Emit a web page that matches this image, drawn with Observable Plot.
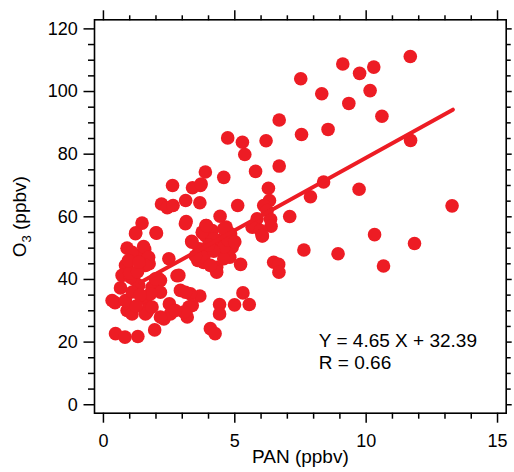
<!DOCTYPE html>
<html>
<head>
<meta charset="utf-8">
<script src="https://cdn.jsdelivr.net/npm/d3@7"></script>
<script src="https://cdn.jsdelivr.net/npm/@observablehq/plot@0.6"></script>
<style>
  html, body { margin: 0; padding: 0; background: #fff; }
  #chart svg { display: block; }
</style>
</head>
<body>
<div id="chart"></div>
<script>
// PAN (ppbv) values
const pan = [
  11.68, 9.11, 10.29, 9.75, 7.51, 10.15, 8.31, 9.34, 10.6, 6.69,
  8.55, 7.54, 4.73, 5.29, 6.19, 11.69, 5.38, 6.69, 5.79, 3.88,
  4.58, 2.63, 3.69, 3.39, 8.38, 6.28, 9.73, 7.88, 3.13, 3.67,
  2.21, 2.43, 2.65, 5.11, 6.32, 6.1, 6.23, 13.27, 7.09, 4.44,
  6.36, 5.85, 3.15, 1.47, 3.9, 5.66, 6.38, 2.0, 1.23, 4.67,
  6.05, 10.32, 3.36, 3.78, 4.39, 4.84, 11.84, 0.9, 1.57, 7.63,
  8.93, 3.64, 3.95, 4.9, 4.43, 2.49, 4.81, 6.48, 6.67, 5.22,
  1.74, 3.59, 3.81, 4.31, 0.9, 4.31, 10.66, 6.68, 2.8, 2.17,
  0.65, 3.67, 2.93, 3.31, 5.31, 0.44, 0.9, 4.42, 4.99, 5.55,
  3.38, 2.51, 2.67, 1.66, 2.3, 3.19, 4.42, 1.95, 4.07, 4.25,
  0.46, 0.82, 1.31,
  1.22, 1.09, 1.53, 1.72, 0.84, 1.6, 3.12, 2.11, 0.71, 1.15,
  1.34, 1.85, 0.33, 0.84, 1.6, 2.17, 1.09, 1.72, 3.12, 3.25,
  2.55, 2.17, 3.06, 3.88, 3.37, 4.14, 2.87, 1.03, 1.98, 1.79,
  1.6, 1.85, 2.74, 3.82, 4.58, 4.07, 4.2, 4.58, 3.76, 3.92,
  5.98, 6.04, 3.72, 2.02, 1.22, 1.0, 1.3, 1.1, 1.4, 1.25,
  0.95, 1.35, 4.6, 4.75, 4.2, 5.0, 4.0, 3.5
];
// O3 (ppbv) values
const o3 = [
  111.2, 108.8, 107.8, 105.8, 104.1, 100.3, 99.3, 96.2, 92.1, 90.9,
  87.9, 86.3, 85.2, 83.8, 84.3, 84.4, 79.9, 76.2, 74.5, 74.3,
  72.6, 70.0, 70.0, 69.3, 71.1, 69.1, 68.8, 66.4, 65.2, 64.5,
  64.1, 62.9, 63.6, 63.6, 65.2, 63.6, 62.0, 63.5, 60.1, 60.2,
  59.2, 59.4, 58.5, 58.0, 57.2, 56.7, 57.0, 54.9, 54.9, 56.7,
  53.9, 54.3, 52.2, 54.8, 52.4, 54.6, 51.5, 50.0, 49.6, 49.4,
  48.2, 49.8, 49.3, 50.3, 50.3, 46.6, 47.1, 45.5, 44.8, 44.8,
  45.0, 46.1, 45.4, 43.9, 43.9, 42.3, 44.3, 42.3, 41.2, 39.7,
  37.3, 34.7, 36.5, 35.4, 35.7, 32.6, 30.1, 32.0, 31.9, 32.0,
  31.7, 32.2, 30.1, 29.6, 27.4, 28.0, 29.0, 23.9, 24.3, 22.7,
  22.7, 21.6, 21.8,
  47.7, 48.7, 50.5, 47.1, 44.5, 44.5, 57.8, 40.2, 41.3, 40.2,
  38.1, 37.5, 33.3, 33.3, 33.8, 35.9, 29.0, 30.6, 35.9, 31.2,
  29.0, 28.0, 29.6, 54.0, 51.9, 55.6, 41.3, 40.7, 40.2, 35.4,
  29.0, 31.2, 30.1, 47.1, 46.6, 44.5, 53.0, 56.2, 55.1, 57.2,
  55.6, 54.0, 70.5, 54.8, 54.6, 42.0, 42.5, 36.0, 35.0, 31.5,
  46.0, 45.5, 50.5, 52.5, 49.0, 52.0, 51.0, 47.5
];
// Fitted line endpoints as drawn
const fitX = [1.4, 13.3];
const fitY = [39.0, 94.2];
// Annotation text
const annotation = ["Y = 4.65 X + 32.39", "R = 0.66"];
// Tick values
const xMajor = [0, 5, 10, 15];
const xMinor = [1, 2, 3, 4, 6, 7, 8, 9, 11, 12, 13, 14];
const yMajor = [0, 20, 40, 60, 80, 100, 120];
const yMinor = [5, 10, 15, 25, 30, 35, 45, 50, 55, 65, 70, 75, 85, 90, 95, 105, 110, 115];

const points = pan.map((x, i) => ({x, y: o3[i]}));
const fit = fitX.map((x, i) => ({x, y: fitY[i]}));
const red = "#ED1C24";
const none = () => "";

const plot = Plot.plot({
  width: 514,
  height: 472,
  marginLeft: 94,
  marginRight: 8.3,
  marginTop: 19.3,
  marginBottom: 59.3,
  style: {fontFamily: "'Liberation Sans', Arial, sans-serif", fontSize: "18px", color: "#000", background: "#fff"},
  x: {domain: [-0.34, 15.33]},
  y: {domain: [-2.7, 122.9]},
  marks: [
    Plot.dot(points, {x: "x", y: "y", r: 6.8, fill: red, stroke: "none"}),
    Plot.line(fit, {x: "x", y: "y", stroke: red, strokeWidth: 4}),
    Plot.text([annotation[0]], {x: () => 8.2, y: () => 20.4, text: d => d, textAnchor: "start", fontSize: 19, fill: "#000"}),
    Plot.text([annotation[1]], {x: () => 8.2, y: () => 13.4, text: d => d, textAnchor: "start", fontSize: 19, fill: "#000"}),
    Plot.frame({stroke: "#000", strokeWidth: 1.6}),
    Plot.axisX(xMajor, {anchor: "bottom", tickSize: 10, tickPadding: 10.6, strokeWidth: 1.5, fontSize: 18, label: null}),
    Plot.axisX(xMinor, {anchor: "bottom", tickSize: 6, strokeWidth: 1.5, tickFormat: none, label: null}),
    Plot.axisX(xMajor, {anchor: "top", tickSize: 10, strokeWidth: 1.5, tickFormat: none, label: null}),
    Plot.axisX(xMinor, {anchor: "top", tickSize: 5, strokeWidth: 1.5, tickFormat: none, label: null}),
    Plot.axisY(yMajor, {anchor: "left", tickSize: 10.5, tickPadding: 6.2, strokeWidth: 1.5, fontSize: 18, label: null}),
    Plot.axisY(yMinor, {anchor: "left", tickSize: 6, strokeWidth: 1.5, tickFormat: none, label: null}),
    Plot.axisY(yMajor, {anchor: "right", tickSize: 5, strokeWidth: 1.5, tickFormat: none, label: null}),
    Plot.axisY(yMinor, {anchor: "right", tickSize: 4, strokeWidth: 1.5, tickFormat: none, label: null}),
    Plot.text(["PAN (ppbv)"], {frameAnchor: "bottom", dy: 49.3, text: d => d, fontSize: 19, fill: "#000"})
  ]
});

document.getElementById("chart").appendChild(plot);

// Y-axis title with subscript
const svg = d3.select(plot);
const yl = svg.append("text")
  .attr("transform", "translate(26,216.7) rotate(-90)")
  .attr("text-anchor", "middle")
  .attr("font-family", "'Liberation Sans', Arial, sans-serif")
  .attr("font-size", 19)
  .attr("fill", "#000");
yl.append("tspan").text("O");
yl.append("tspan").attr("font-size", 13).attr("dy", 5).text("3");
yl.append("tspan").attr("dy", -5).text(" (ppbv)");
</script>
</body>
</html>
